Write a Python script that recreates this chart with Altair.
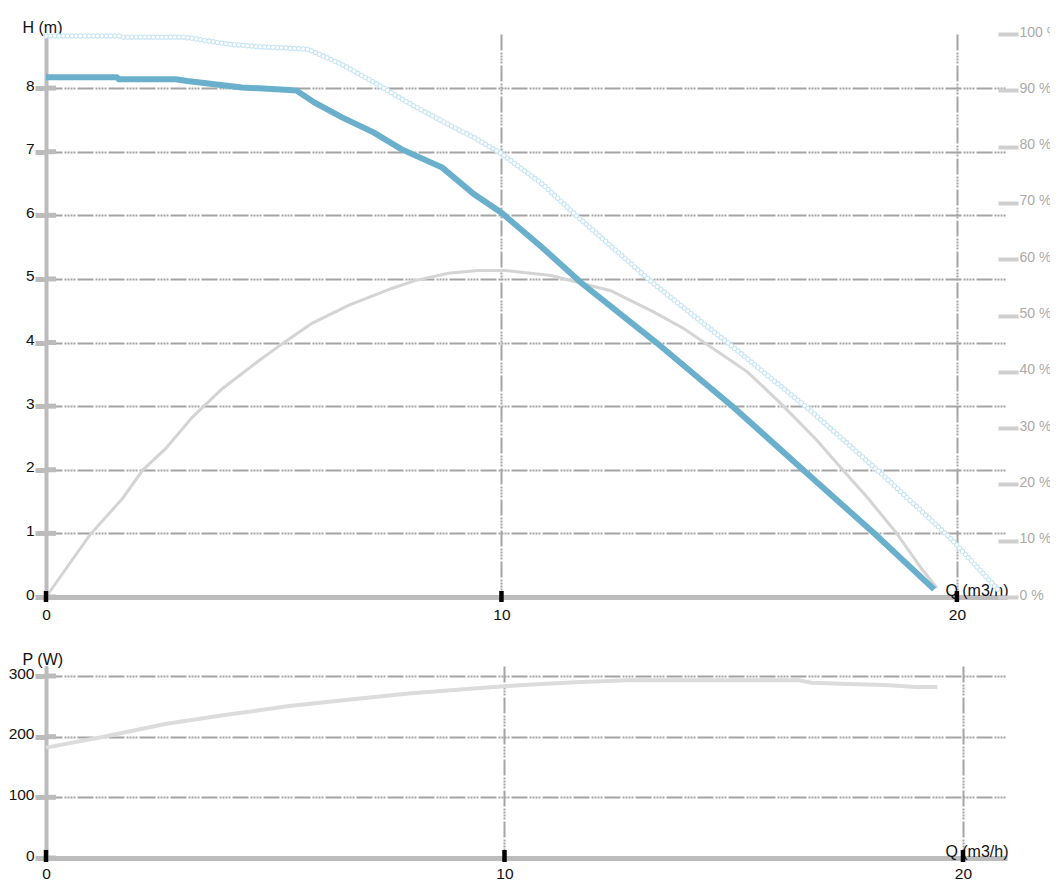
import altair as alt
import pandas as pd

# ---------------- data ----------------
# Pump head curve H(Q)
H_Q = [0, 1.55, 1.6, 2.85, 3.1, 3.7, 4.3, 5.35, 5.5, 5.9, 6.5, 7.2, 7.8, 8.7, 9.4,
       10.0, 10.9, 11.75, 13.4, 15.1, 16.7, 18.2, 19.5]
H_M = [8.17, 8.17, 8.14, 8.14, 8.11, 8.06, 8.01, 7.97, 7.96, 7.77, 7.54, 7.30, 7.04,
       6.75, 6.33, 6.04, 5.49, 4.94, 4.00, 2.98, 1.95, 0.99, 0.12]

# Max head curve (hollow-circle line)
C_Q = [0, 1.6, 1.7, 3.05, 4.0, 4.7, 5.75, 6.0, 6.5, 7.2, 7.95, 8.7, 9.4, 10.0, 10.9,
       11.7, 13.35, 15.1, 16.8, 18.4, 19.85, 20.95]
C_M = [8.82, 8.82, 8.80, 8.80, 8.69, 8.65, 8.61, 8.53, 8.37, 8.09, 7.77, 7.48, 7.22,
       6.97, 6.49, 5.96, 4.92, 3.92, 2.92, 1.90, 0.93, 0.08]

# Efficiency curve (%)
E_Q = [0, 0.96, 1.68, 2.12, 2.63, 3.22, 3.87, 4.68, 5.19, 5.84, 6.64, 7.59, 8.10, 8.83,
       9.49, 10.07, 11.09, 12.4, 13.35, 14.0, 15.4, 16.13, 16.93, 17.5, 18.02, 18.68,
       19.19, 19.56]
E_P = [0, 11.0, 17.5, 22.5, 26.4, 32.0, 37.0, 42.0, 45.0, 48.6, 51.8, 54.8, 56.2, 57.5,
       58.0, 58.0, 57.1, 54.4, 50.6, 47.7, 40.0, 34.4, 27.8, 22.5, 17.8, 11.3, 5.4, 1.6]

# Power curve P(Q)
P_Q = [0, 1.26, 2.6, 3.93, 5.26, 6.59, 7.91, 9.25, 10.0, 10.6, 11.65, 12.7, 14.58,
       16.43, 16.7, 17.5, 18.3, 18.97, 19.44]
P_W = [182, 200, 221, 236, 250, 261, 271, 279, 283, 286, 290, 293, 293, 293, 289, 287,
       285, 282, 282]

# Tick values
X_TICKS = [0, 10, 20]
H_TICKS = [0, 1, 2, 3, 4, 5, 6, 7, 8]
E_TICKS = [0, 10, 20, 30, 40, 50, 60, 70, 80, 90, 100]
P_TICKS = [0, 100, 200, 300]

# ---------------- styling ----------------
FONT = "Liberation Sans"
W = 961
H_TOP = 563
H_BOT = 192
GRID = "#a4a4a4"
AXC = "#bcbcbc"
DASH = [16, 2, 2, 1, 2, 1, 2, 1, 2, 2]
BLUE = "#6ab0cc"
CIRC = "#c8e5f4"
GRAY = "#d4d4d4"
TXT = "#111111"

h_df = pd.DataFrame({"Q": H_Q, "H": H_M})
c_df = pd.DataFrame({"Q": C_Q, "H": C_M})
e_df = pd.DataFrame({"Q": E_Q, "E": E_P})
p_df = pd.DataFrame({"Q": P_Q, "P": P_W})
xt_df = pd.DataFrame({"Q": X_TICKS})
ht_df = pd.DataFrame({"H": H_TICKS})
pt_df = pd.DataFrame({"P": P_TICKS})


def x_axis(pad):
    return alt.Axis(values=X_TICKS, grid=True, gridColor=GRID, gridDash=DASH, gridWidth=2,
                    ticks=False, domain=True, domainColor=AXC, domainWidth=5,
                    labelPadding=pad, labelFontSize=15.5, labelColor=TXT, labelFont=FONT,
                    labelFlush=False, labelBaseline="alphabetic",
                    title="Q (m3/h)", titleAngle=0, titleAlign="right",
                    titleBaseline="alphabetic", titleX=W + 1, titleY=-2,
                    titleFontSize=16, titleFontWeight="normal", titleColor=TXT,
                    titleFont=FONT, orient="bottom")


def y_axis(values, title):
    return alt.Axis(values=values, grid=True, gridColor=GRID, gridDash=DASH, gridWidth=2,
                    ticks=True, tickSize=11, tickWidth=5, tickColor=AXC,
                    domain=True, domainColor=AXC, domainWidth=4,
                    labelPadding=1, labelFontSize=15.5, labelColor=TXT, labelFont=FONT,
                    labelBaseline="alphabetic", labelOffset=2,
                    title=title, titleAngle=0, titleAlign="left",
                    titleBaseline="alphabetic", titleX=-24, titleY=-2,
                    titleFontSize=16, titleFontWeight="normal", titleColor=TXT,
                    titleFont=FONT, orient="left")


XA_TOP = x_axis(22)
XA_BOT = x_axis(20.5)
YA_H = y_axis(H_TICKS, "H (m)")
YA_P = y_axis(P_TICKS, "P (W)")
YA_E = alt.Axis(orient="right", values=E_TICKS, grid=False, domain=False,
                ticks=True, tickSize=20, tickWidth=4, tickColor="#cfcfcf",
                offset=-9, labelPadding=1, labelFontSize=14,
                labelColor="#aaaaaa", labelFont=FONT,
                labelBaseline="alphabetic", labelOffset=2,
                labelExpr="datum.value + ' %'", title=None)

xs_top = alt.Scale(domain=[0, 21.1], nice=False, zero=False)
xs_bot = alt.Scale(domain=[0, 20.96], nice=False, zero=False)
ys_h = alt.Scale(domain=[0, 8.85], nice=False)
ys_e = alt.Scale(domain=[0, 100], nice=False)
ys_p = alt.Scale(domain=[0, 316.5], nice=False)

# ---------------- top panel ----------------
eff = alt.Chart(e_df).mark_line(color=GRAY, strokeWidth=3).encode(
    x=alt.X("Q:Q", scale=xs_top, axis=XA_TOP),
    y=alt.Y("E:Q", scale=ys_e, axis=YA_E),
)

circ_outer = alt.Chart(c_df).mark_line(color=CIRC, strokeWidth=5.5, strokeDash=[0, 4.3],
                                       strokeCap="round").encode(
    x=alt.X("Q:Q", scale=xs_top, axis=XA_TOP),
    y=alt.Y("H:Q", scale=ys_h, axis=YA_H),
)
circ_inner = alt.Chart(c_df).mark_line(color="white", strokeWidth=3.3, strokeDash=[0, 4.3],
                                       strokeCap="round").encode(
    x=alt.X("Q:Q", scale=xs_top, axis=XA_TOP),
    y=alt.Y("H:Q", scale=ys_h, axis=YA_H),
)
blue = alt.Chart(h_df).mark_line(color=BLUE, strokeWidth=6).encode(
    x=alt.X("Q:Q", scale=xs_top, axis=XA_TOP),
    y=alt.Y("H:Q", scale=ys_h, axis=YA_H),
)
h_in_ticks = alt.Chart(ht_df).mark_rule(color=AXC, strokeWidth=5).encode(
    y=alt.Y("H:Q", scale=ys_h, axis=YA_H),
    x=alt.value(0), x2=alt.value(10),
)
x_ticks_top = alt.Chart(xt_df).mark_rule(color="black", strokeWidth=4.5).encode(
    x=alt.X("Q:Q", scale=xs_top, axis=XA_TOP),
    y=alt.value(H_TOP - 6), y2=alt.value(H_TOP + 5),
)

h_group = alt.layer(circ_outer, circ_inner, blue, h_in_ticks, x_ticks_top)

top = alt.layer(eff, h_group).resolve_scale(y="independent").properties(
    width=W, height=H_TOP)

# ---------------- bottom panel ----------------
power = alt.Chart(p_df).mark_line(color="#dcdcdc", strokeWidth=4).encode(
    x=alt.X("Q:Q", scale=xs_bot, axis=XA_BOT),
    y=alt.Y("P:Q", scale=ys_p, axis=YA_P),
)
p_in_ticks = alt.Chart(pt_df).mark_rule(color=AXC, strokeWidth=5).encode(
    y=alt.Y("P:Q", scale=ys_p, axis=YA_P),
    x=alt.value(0), x2=alt.value(10),
)
x_ticks_bot = alt.Chart(xt_df).mark_rule(color="black", strokeWidth=4.5).encode(
    x=alt.X("Q:Q", scale=xs_bot, axis=XA_BOT),
    y=alt.value(H_BOT - 8), y2=alt.value(H_BOT + 4),
)
bottom = alt.layer(power, p_in_ticks, x_ticks_bot).properties(width=W, height=H_BOT)

# negative right padding crops the svg at the window edge, as in the reference
chart = alt.vconcat(top, bottom, spacing=69, bounds="flush").properties(
    padding={"left": 0, "top": 11, "right": -9, "bottom": 0},
).configure(font=FONT, background="white").configure_view(strokeWidth=0, stroke=None)

chart.save("out.html", embed_options={"renderer": "svg", "actions": False})
